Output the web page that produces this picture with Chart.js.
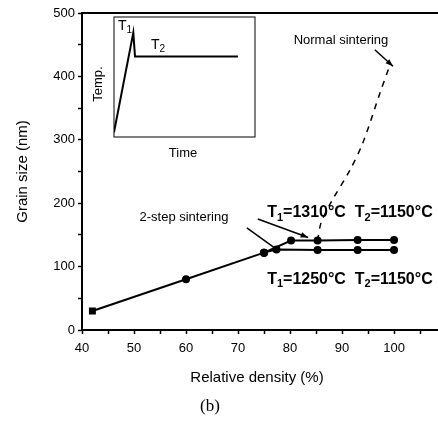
<!DOCTYPE html>
<html>
<head>
<meta charset="utf-8">
<script src="https://cdn.jsdelivr.net/npm/chart.js@4.4.1/dist/chart.umd.min.js"></script>
<style>
  html, body { margin: 0; padding: 0; background: #fff; }
  #wrap { position: relative; width: 438px; height: 423px; }
  #main { position: absolute; left: 0; top: 0; }
  #inset { position: absolute; left: 90px; top: 5px; }
</style>
</head>
<body>
<div id="wrap">
  <canvas id="main" width="438" height="423"></canvas>
  <canvas id="inset" width="175" height="165"></canvas>
</div>
<script>
// --- data ---
const commonDensity = [42, 60, 75];
const commonGrain = [30, 80, 122];

const highDensity = [75, 80.2, 85.3, 93, 100];   // T1=1310°C
const highGrain = [122, 141, 141, 142, 142];

const lowDensity = [75, 77.4, 85.3, 93, 100];    // T1=1250°C
const lowGrain = [122, 127, 126, 126, 126];

const normalDensity = [85.3, 86, 88, 91.5, 94, 97.3, 99];
const normalGrain = [141, 170, 203, 252, 295, 374, 413];

// inset schedule (arbitrary units)
const insetTime = [0, 13.7, 14.9, 87.9];
const insetTemp = [4, 87, 67, 67];

// ticks
const xTickValues = [40, 45, 50, 55, 60, 65, 70, 75, 80, 85, 90, 95, 100, 105];
const xTickLabels = [40, 50, 60, 70, 80, 90, 100];
const yTickValues = [0, 50, 100, 150, 200, 250, 300, 350, 400, 450, 500];
const yTickLabels = [0, 100, 200, 300, 400, 500];

const sans = "'Liberation Sans', Arial, sans-serif";
Chart.defaults.font.family = sans;
Chart.defaults.color = '#000';

const pts = (xs, ys) => xs.map((x, i) => ({ x: x, y: ys[i] }));

function arrow(ctx, x1, y1, x2, y2, head) {
    ctx.beginPath();
    ctx.moveTo(x1, y1);
    ctx.lineTo(x2, y2);
    ctx.stroke();
    if (head) {
        const a = Math.atan2(y2 - y1, x2 - x1);
        ctx.beginPath();
        ctx.moveTo(x2, y2);
        ctx.lineTo(x2 - 8 * Math.cos(a - 0.35), y2 - 8 * Math.sin(a - 0.35));
        ctx.lineTo(x2 - 8 * Math.cos(a + 0.35), y2 - 8 * Math.sin(a + 0.35));
        ctx.closePath();
        ctx.fill();
    }
}

// text made of [string, isSubscript] pieces
function subText(ctx, x, y, parts, size, subSize, weight) {
    ctx.textBaseline = 'middle';
    ctx.textAlign = 'left';
    parts.forEach(p => {
        ctx.font = weight + ' ' + (p[1] ? subSize : size) + 'px ' + sans;
        ctx.fillText(p[0], x, y + (p[1] ? size * 0.28 : 0));
        x += ctx.measureText(p[0]).width;
    });
}

function tempLabel(ctx, x, y, t1, t2) {
    subText(ctx, x, y, [['T', 0], ['1', 1], ['=' + t1 + '\u00b0C  ', 0], ['T', 0], ['2', 1], ['=' + t2 + '\u00b0C', 0]], 16, 11, 'bold');
}

const notes = {
    id: 'notes',
    afterDraw(chart) {
        const { ctx, chartArea: a, scales: { x, y } } = chart;
        ctx.save();
        ctx.strokeStyle = '#000';
        ctx.fillStyle = '#000';

        // top frame line, and the x axis carried on to the edge
        ctx.lineWidth = 2;
        ctx.beginPath();
        ctx.moveTo(a.left, a.top);
        ctx.lineTo(chart.width, a.top);
        ctx.stroke();
        ctx.beginPath();
        ctx.moveTo(a.right, a.bottom);
        ctx.lineTo(chart.width, a.bottom);
        ctx.stroke();

        ctx.font = '13px ' + sans;
        ctx.textAlign = 'center';
        ctx.textBaseline = 'middle';
        ctx.fillText('Normal sintering', x.getPixelForValue(89.8), y.getPixelForValue(457));
        ctx.fillText('2-step sintering', x.getPixelForValue(59.6), y.getPixelForValue(178));

        ctx.lineWidth = 1.5;
        arrow(ctx, x.getPixelForValue(96.3), y.getPixelForValue(442), x.getPixelForValue(99.8), y.getPixelForValue(416), true);
        arrow(ctx, x.getPixelForValue(73.8), y.getPixelForValue(175), x.getPixelForValue(83.5), y.getPixelForValue(146), true);
        arrow(ctx, x.getPixelForValue(71.7), y.getPixelForValue(161), x.getPixelForValue(77.1), y.getPixelForValue(129), false);

        tempLabel(ctx, x.getPixelForValue(75.6), y.getPixelForValue(184.5), '1310', '1150');
        tempLabel(ctx, x.getPixelForValue(75.6), y.getPixelForValue(79), '1250', '1150');

        // caption
        ctx.font = "17px 'Liberation Serif', 'Times New Roman', serif";
        ctx.textAlign = 'center';
        ctx.fillText('(b)', 210, 407);
        ctx.restore();
    }
};

new Chart(document.getElementById('main'), {
    type: 'scatter',
    data: {
        datasets: [
            {
                data: pts(commonDensity, commonGrain),
                showLine: true, borderColor: '#000', backgroundColor: '#000', borderWidth: 2,
                pointRadius: ctx => ctx.dataIndex === 0 ? 3.5 : 3,
                pointStyle: ctx => ctx.dataIndex === 0 ? 'rect' : 'circle'
            },
            {
                data: pts(highDensity, highGrain),
                showLine: true, borderColor: '#000', backgroundColor: '#000', borderWidth: 2, pointRadius: 3
            },
            {
                data: pts(lowDensity, lowGrain),
                showLine: true, borderColor: '#000', backgroundColor: '#000', borderWidth: 2, pointRadius: 3
            },
            {
                data: pts(normalDensity, normalGrain),
                showLine: true, borderColor: '#000', borderWidth: 1.5, borderDash: [6, 6],
                pointRadius: 0, tension: 0.3
            }
        ]
    },
    options: {
        responsive: false,
        animation: false,
        layout: { padding: { top: 13, left: 0, right: 0, bottom: 36 } },
        plugins: { legend: { display: false }, tooltip: { enabled: false } },
        scales: {
            x: {
                type: 'linear', min: 40, max: 107.3,
                afterBuildTicks: s => { s.ticks = xTickValues.map(v => ({ value: v })); },
                afterFit: s => { s.height = 57; },
                grid: { drawOnChartArea: false, tickLength: 4, tickColor: '#000', tickWidth: 1.5 },
                border: { color: '#000', width: 2 },
                ticks: {
                    callback: v => xTickLabels.includes(v) ? String(v) : '',
                    font: { size: 13 }, padding: 7, maxRotation: 0, autoSkip: false
                },
                title: { display: true, text: 'Relative density (%)', font: { size: 15 }, padding: { top: 0, bottom: 0 } }
            },
            y: {
                type: 'linear', min: 0, max: 500,
                afterBuildTicks: s => { s.ticks = yTickValues.map(v => ({ value: v })); },
                afterFit: s => { s.width = 82; },
                grid: { drawOnChartArea: false, tickLength: 4, tickColor: '#000', tickWidth: 1.5 },
                border: { color: '#000', width: 2 },
                ticks: {
                    callback: v => yTickLabels.includes(v) ? String(v) : '',
                    font: { size: 13 }, padding: 3, autoSkip: false
                },
                title: { display: true, text: 'Grain size (nm)', font: { size: 15 }, padding: { top: 14, bottom: 0 } }
            }
        }
    },
    plugins: [notes]
});

// --- inset: temperature schedule ---
const insetFrame = {
    id: 'insetFrame',
    afterDraw(chart) {
        const { ctx, chartArea: a } = chart;
        ctx.save();
        ctx.strokeStyle = '#000';
        ctx.fillStyle = '#000';
        ctx.lineWidth = 1;
        ctx.strokeRect(a.left, a.top, a.right - a.left, a.bottom - a.top);
        subText(ctx, a.left + 4, a.top + 9, [['T', 0], ['1', 1]], 14, 10, 'normal');
        subText(ctx, a.left + 37, a.top + 28, [['T', 0], ['2', 1]], 14, 10, 'normal');
        ctx.font = '13px ' + sans;
        ctx.textBaseline = 'middle';
        ctx.textAlign = 'center';
        ctx.fillText('Time', a.left + 69, a.bottom + 16);
        ctx.translate(a.left - 16, a.top + 67);
        ctx.rotate(-Math.PI / 2);
        ctx.fillText('Temp.', 0, 0);
        ctx.restore();
    }
};

new Chart(document.getElementById('inset'), {
    type: 'scatter',
    data: {
        datasets: [{
            data: pts(insetTime, insetTemp),
            showLine: true, borderColor: '#000', borderWidth: 2, pointRadius: 0
        }]
    },
    options: {
        responsive: false,
        animation: false,
        layout: { padding: { left: 24, top: 12, right: 10, bottom: 33 } },
        plugins: { legend: { display: false }, tooltip: { enabled: false } },
        scales: {
            x: { display: false, min: 0, max: 100 },
            y: { display: false, min: 0, max: 100 }
        }
    },
    plugins: [insetFrame]
});
</script>
</body>
</html>
